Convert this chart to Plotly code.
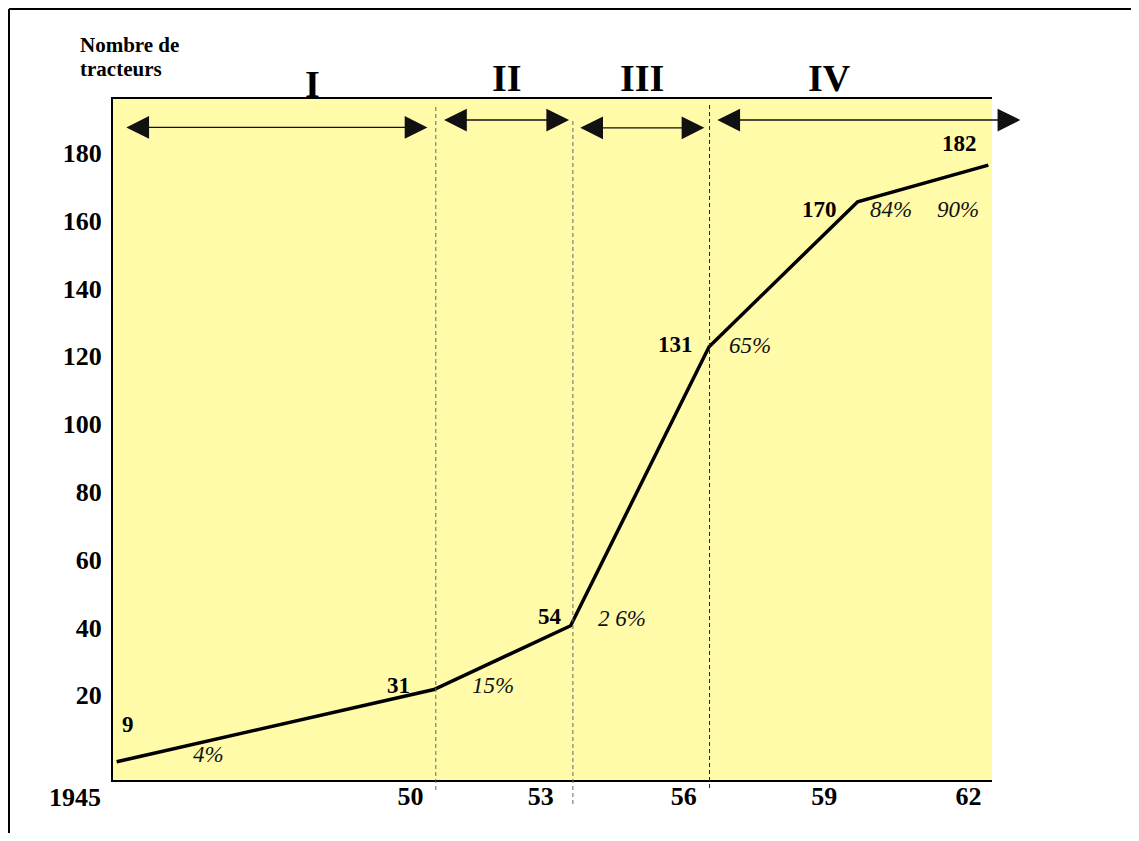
import plotly.graph_objects as go

# Curve points: horizontal position (years, as drawn) and height on the left scale
x_years = [1943.08, 1950.0, 1952.98, 1956.0, 1959.24, 1962.09]
y_values = [0.4, 21.7, 40.5, 122.8, 165.6, 176.4]

# Numbers written next to the points
count_labels = ["9", "31", "54", "131", "170", "182"]
share_labels = ["4%", "15%", "2 6%", "65%", "84%", "90%"]

# Axis labels
y_ticks = [20, 40, 60, 80, 100, 120, 140, 160, 180]
x_tick_text = ["1945", "50", "53", "56", "59", "62"]
x_tick_years = [1942.15, 1949.49, 1952.33, 1955.45, 1958.51, 1961.66]

# Periods (double arrows above the curve) and their dividers
periods = ["I", "II", "III", "IV"]
period_start = [1943.29, 1950.22, 1953.19, 1956.18]
period_end = [1949.89, 1952.98, 1955.93, 1962.82]
dividers = [1950.04, 1953.03, 1956.01]

# ---- layout geometry (pixels); the page body adds an 8px margin ----
OFF = 8
W, H = 1123, 825
L, R, T, B = 105, 139, 91, 53
PW, PH = W - L - R, H - T - B
X_RANGE = [1943.0, 1962.17]
Y_RANGE = [-5.0, 195.9]

FONT = "Liberation Serif"
YELLOW = "#FFFBA9"


def fx(px):
    # page x pixel -> paper fraction
    return (px - OFF - L) / PW


def fy(py):
    # page y pixel -> paper fraction
    return (H - B - (py - OFF)) / PH


fig = go.Figure()

# The curve
fig.add_trace(go.Scatter(x=x_years, y=y_values, mode="lines",
                         line=dict(color="black", width=3.5),
                         hoverinfo="skip", showlegend=False))

annotations = []

# Bold tractor counts and italic shares, shifted from each point
count_shift = [(11, 37), (-35, 4), (-21, 9), (-34, 2), (-38, -8), (-29, 22)]
share_shift = [(92, 7), (59, 4), (51, 7), (41, 1), (33, -8), (-30, -44)]
for i in range(len(x_years)):
    annotations.append(dict(x=x_years[i], y=y_values[i], text=count_labels[i],
                            showarrow=False, xshift=count_shift[i][0],
                            yshift=count_shift[i][1],
                            font=dict(family=FONT, size=23, color="black",
                                      weight="bold")))
    annotations.append(dict(x=x_years[i], y=y_values[i], text=share_labels[i],
                            showarrow=False, xshift=share_shift[i][0],
                            yshift=share_shift[i][1],
                            font=dict(family=FONT, size=23, color="#111",
                                      style="italic")))

# Period arrows and roman numerals
arrow_y = [187.5, 189.7, 187.4, 189.7]
numeral_x = [1947.35, 1951.6, 1954.54, 1958.63]
numeral_py = [84, 78, 78, 78]
for i in range(len(periods)):
    annotations.append(dict(x=period_start[i], y=arrow_y[i],
                            ax=period_end[i], ay=arrow_y[i],
                            xref="x", yref="y", axref="x", ayref="y",
                            text="", showarrow=True, arrowside="end+start",
                            arrowhead=2, startarrowhead=2,
                            arrowsize=3.5, startarrowsize=3.5,
                            arrowwidth=1.3, arrowcolor="#111"))
    annotations.append(dict(x=numeral_x[i], y=fy(numeral_py[i]),
                            xref="x", yref="paper", xanchor="center",
                            yanchor="middle", text=periods[i],
                            showarrow=False,
                            font=dict(family=FONT, size=38, color="black",
                                      weight="bold")))

# First year label sits left of the plot area
annotations.append(dict(x=fx(74.5), y=fy(797), xref="paper", yref="paper",
                        xanchor="center", yanchor="middle",
                        text=x_tick_text[0], showarrow=False,
                        font=dict(family=FONT, size=26, color="black",
                                  weight="bold")))

# Axis title
for txt, py in [("Nombre de", 45), ("tracteurs", 69)]:
    annotations.append(dict(x=fx(78), y=fy(py), xref="paper", yref="paper",
                            xanchor="left", yanchor="middle", text=txt,
                            showarrow=False,
                            font=dict(family=FONT, size=21, color="black",
                                      weight="bold")))

shapes = []
divider_colors = ["#666", "#666", "#222"]
divider_top = [105, 120, 105]
divider_bottom = [790, 804, 788]
for i, xd in enumerate(dividers):
    shapes.append(dict(type="line", xref="x", yref="paper",
                       x0=xd, x1=xd, y0=fy(divider_bottom[i]),
                       y1=fy(divider_top[i]),
                       line=dict(color=divider_colors[i], width=1,
                                 dash="4px,3px")))

# Outer frame (top and left edges)
shapes.append(dict(type="line", xref="paper", yref="paper",
                   x0=fx(OFF + 1), x1=fx(OFF + W), y0=fy(OFF + 1), y1=fy(OFF + 1),
                   line=dict(color="black", width=2)))
shapes.append(dict(type="line", xref="paper", yref="paper",
                   x0=fx(OFF + 1), x1=fx(OFF + 1), y0=fy(OFF + 1), y1=fy(OFF + H),
                   line=dict(color="black", width=2)))

fig.update_layout(
    width=W, height=H,
    margin=dict(l=L, r=R, t=T, b=B),
    paper_bgcolor="white",
    plot_bgcolor=YELLOW,
    showlegend=False,
    annotations=annotations,
    shapes=shapes,
    xaxis=dict(range=X_RANGE, showgrid=False, zeroline=False,
               showline=True, linecolor="black", linewidth=2, mirror=True,
               tickmode="array", tickvals=x_tick_years[1:],
               ticktext=x_tick_text[1:], ticks="", ticklabelstandoff=-8,
               tickfont=dict(family=FONT, size=26, color="black",
                             weight="bold")),
    yaxis=dict(range=Y_RANGE, showgrid=False, zeroline=False,
               showline=True, linecolor="black", linewidth=2, mirror=False,
               tickmode="array", tickvals=y_ticks,
               ticktext=[str(v) for v in y_ticks], ticks="outside",
               ticklen=4, tickcolor="rgba(0,0,0,0)",
               tickfont=dict(family=FONT, size=26, color="black",
                             weight="bold")),
)

fig.write_html("out.html")
